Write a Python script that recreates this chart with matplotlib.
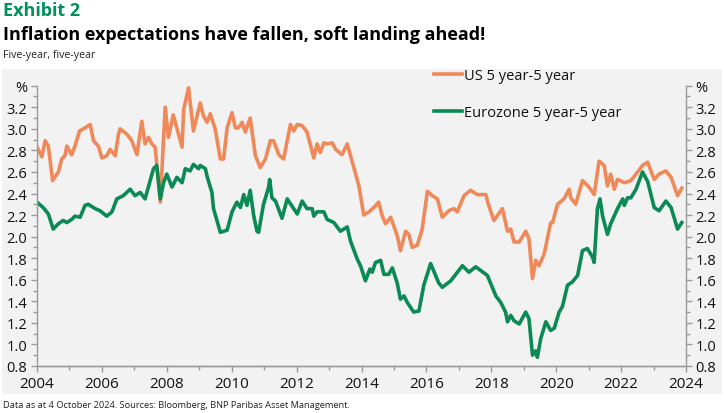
import numpy as np
import matplotlib
matplotlib.use('Agg')
import matplotlib.pyplot as plt
from matplotlib.patches import Rectangle
from matplotlib.ticker import MultipleLocator

plt.rcParams['font.family'] = ['Open Sans', 'DejaVu Sans']

# US 5y5y inflation expectations (decimal year, %)
us_years = [2004.00, 2004.15, 2004.25, 2004.35, 2004.48, 2004.66, 2004.76, 2004.86, 2004.92,
            2005.07, 2005.17, 2005.31, 2005.43, 2005.64, 2005.74, 2005.89, 2006.00, 2006.15,
            2006.25, 2006.41, 2006.51, 2006.56, 2006.77, 2006.92, 2007.08, 2007.23, 2007.33,
            2007.44, 2007.54, 2007.64, 2007.80, 2007.95, 2008.05, 2008.20, 2008.36, 2008.47,
            2008.52, 2008.67, 2008.82, 2009.03, 2009.13, 2009.24, 2009.34, 2009.49, 2009.65,
            2009.75, 2009.86, 2010.01, 2010.11, 2010.21, 2010.32, 2010.42, 2010.57, 2010.73,
            2010.88, 2011.04, 2011.19, 2011.29, 2011.45, 2011.60, 2011.81, 2011.91, 2012.02,
            2012.17, 2012.32, 2012.53, 2012.63, 2012.73, 2012.84, 2012.94, 2013.10, 2013.20,
            2013.40, 2013.56, 2013.71, 2013.92, 2014.07, 2014.23, 2014.38, 2014.53, 2014.64,
            2014.74, 2014.90, 2015.10, 2015.20, 2015.36, 2015.46, 2015.56, 2015.72, 2015.87,
            2016.03, 2016.18, 2016.34, 2016.49, 2016.69, 2016.85, 2016.95, 2017.16, 2017.36,
            2017.57, 2017.83, 2017.92, 2018.08, 2018.34, 2018.50, 2018.60, 2018.70, 2018.86,
            2019.06, 2019.16, 2019.27, 2019.37, 2019.47, 2019.63, 2019.83, 2019.89, 2020.04,
            2020.24, 2020.40, 2020.45, 2020.60, 2020.81, 2021.01, 2021.17, 2021.32, 2021.48,
            2021.58, 2021.68, 2021.79, 2021.89, 2022.10, 2022.30, 2022.46, 2022.66, 2022.82,
            2023.02, 2023.17, 2023.38, 2023.54, 2023.74, 2023.87]
us_vals = [2.83, 2.74, 2.89, 2.84, 2.52, 2.60, 2.72, 2.75, 2.84,
           2.76, 2.84, 2.98, 3.00, 3.04, 2.89, 2.84, 2.73, 2.75,
           2.81, 2.75, 2.95, 3.00, 2.95, 2.89, 2.76, 3.07, 2.86,
           2.92, 2.86, 2.83, 2.32, 3.20, 2.92, 3.13, 2.95, 2.83,
           3.18, 3.38, 2.98, 3.24, 3.12, 3.06, 3.14, 3.00, 2.72,
           2.72, 3.01, 3.15, 3.01, 3.01, 3.06, 2.97, 3.10, 2.75,
           2.64, 2.72, 2.89, 2.89, 2.76, 2.72, 3.04, 2.98, 3.04,
           3.03, 2.97, 2.73, 2.86, 2.78, 2.87, 2.86, 2.87, 2.81,
           2.76, 2.86, 2.70, 2.47, 2.20, 2.23, 2.27, 2.32, 2.19,
           2.12, 2.18, 2.01, 1.87, 2.05, 2.02, 1.90, 1.92, 2.07,
           2.42, 2.38, 2.35, 2.18, 2.24, 2.26, 2.23, 2.38, 2.43,
           2.39, 2.39, 2.29, 2.15, 2.26, 2.05, 2.07, 1.95, 1.95,
           2.05, 1.98, 1.61, 1.78, 1.73, 1.84, 2.13, 2.13, 2.30,
           2.35, 2.44, 2.36, 2.30, 2.52, 2.46, 2.39, 2.70, 2.66,
           2.47, 2.58, 2.44, 2.53, 2.50, 2.52, 2.58, 2.66, 2.69,
           2.53, 2.58, 2.61, 2.55, 2.38, 2.45]

# Eurozone 5y5y inflation expectations (decimal year, %)
ez_years = [2004.00, 2004.19, 2004.35, 2004.50, 2004.66, 2004.81, 2004.92, 2005.07, 2005.17,
            2005.33, 2005.48, 2005.58, 2005.79, 2005.94, 2006.15, 2006.31, 2006.46, 2006.66,
            2006.87, 2007.02, 2007.18, 2007.33, 2007.49, 2007.59, 2007.69, 2007.80, 2007.90,
            2008.00, 2008.16, 2008.31, 2008.47, 2008.57, 2008.72, 2008.82, 2008.98, 2009.03,
            2009.19, 2009.24, 2009.39, 2009.44, 2009.65, 2009.86, 2010.01, 2010.16, 2010.27,
            2010.37, 2010.47, 2010.57, 2010.68, 2010.78, 2010.83, 2010.98, 2011.14, 2011.17,
            2011.24, 2011.35, 2011.55, 2011.71, 2012.02, 2012.17, 2012.32, 2012.48, 2012.53,
            2012.63, 2012.84, 2012.94, 2013.15, 2013.35, 2013.56, 2013.66, 2013.87, 2013.97,
            2014.12, 2014.26, 2014.33, 2014.43, 2014.59, 2014.69, 2014.84, 2014.95, 2015.10,
            2015.20, 2015.31, 2015.41, 2015.61, 2015.77, 2015.92, 2016.13, 2016.38, 2016.49,
            2016.75, 2017.11, 2017.31, 2017.52, 2017.88, 2018.14, 2018.29, 2018.44, 2018.50,
            2018.60, 2018.70, 2018.86, 2019.06, 2019.16, 2019.27, 2019.37, 2019.42, 2019.52,
            2019.68, 2019.83, 2019.94, 2020.09, 2020.19, 2020.35, 2020.50, 2020.66, 2020.81,
            2020.96, 2021.12, 2021.17, 2021.27, 2021.35, 2021.43, 2021.58, 2021.68, 2021.89,
            2022.05, 2022.10, 2022.20, 2022.30, 2022.46, 2022.66, 2022.82, 2023.02, 2023.17,
            2023.38, 2023.54, 2023.74, 2023.87]
ez_vals = [2.32, 2.27, 2.21, 2.07, 2.12, 2.15, 2.13, 2.16, 2.19,
           2.18, 2.29, 2.30, 2.26, 2.24, 2.19, 2.23, 2.35, 2.38,
           2.44, 2.38, 2.41, 2.35, 2.52, 2.63, 2.66, 2.35, 2.50,
           2.58, 2.46, 2.55, 2.50, 2.63, 2.61, 2.67, 2.63, 2.66,
           2.63, 2.56, 2.41, 2.26, 2.04, 2.06, 2.23, 2.32, 2.27,
           2.39, 2.29, 2.43, 2.19, 2.05, 2.04, 2.30, 2.46, 2.53,
           2.36, 2.33, 2.17, 2.35, 2.21, 2.33, 2.26, 2.26, 2.19,
           2.23, 2.23, 2.16, 2.13, 2.05, 2.09, 1.96, 1.79, 1.73,
           1.59, 1.70, 1.67, 1.76, 1.78, 1.65, 1.65, 1.71, 1.57,
           1.42, 1.45, 1.39, 1.30, 1.31, 1.55, 1.75, 1.57, 1.53,
           1.59, 1.73, 1.67, 1.72, 1.64, 1.45, 1.39, 1.30, 1.21,
           1.27, 1.22, 1.19, 1.30, 1.24, 0.90, 0.94, 0.88, 1.05,
           1.21, 1.13, 1.15, 1.30, 1.35, 1.55, 1.58, 1.64, 1.87,
           1.89, 1.81, 1.76, 2.26, 2.35, 2.19, 2.02, 2.12, 2.26,
           2.35, 2.29, 2.36, 2.36, 2.44, 2.60, 2.51, 2.27, 2.24,
           2.33, 2.27, 2.07, 2.13]

y_ticks = [0.8, 1.0, 1.2, 1.4, 1.6, 1.8, 2.0, 2.2, 2.4, 2.6, 2.8, 3.0, 3.2, 3.4]
y_labels = ['0.8', '1.0', '1.2', '1.4', '1.6', '1.8', '2.0', '2.2', '2.4', '2.6', '2.8', '3.0', '3.2', '%']

orange = '#F0895A'
green = '#0B8A55'
grey_bg = '#F2F2F2'
spine_c = '#9A9A9A'

W, H = 725, 414
fig = plt.figure(figsize=(W / 100, H / 100), dpi=100)
# grey panel behind the chart
fig.patches.append(Rectangle((2 / W, 1 - 395 / H), 720 / W, 325 / H, transform=fig.transFigure,
                             facecolor=grey_bg, edgecolor='none', zorder=-10))

ax = fig.add_axes([37 / W, 1 - 367 / H, (686 - 37) / W, (367 - 86.7) / H])
ax.set_facecolor('none')
ax.plot(us_years, us_vals, color=orange, lw=2.6, label='US 5 year-5 year', solid_joinstyle='round')
ax.plot(ez_years, ez_vals, color=green, lw=2.6, label='Eurozone 5 year-5 year', solid_joinstyle='round')

ax.set_xlim(2004, 2024)
ax.set_ylim(0.8, 3.4)
ax.xaxis.set_major_locator(MultipleLocator(2))
ax.xaxis.set_minor_locator(MultipleLocator(1))
ax.set_yticks(y_ticks)
ax.set_yticklabels(y_labels)
ax.yaxis.set_minor_locator(MultipleLocator(0.1))

ax2 = ax.twinx()
ax2.set_ylim(0.8, 3.4)
ax2.set_yticks(y_ticks)
ax2.set_yticklabels(y_labels)
ax2.yaxis.set_minor_locator(MultipleLocator(0.1))

for a in (ax, ax2):
    a.spines['top'].set_visible(False)
    for s in ('left', 'right', 'bottom'):
        a.spines[s].set_color(spine_c)
        a.spines[s].set_linewidth(1.0)
    a.tick_params(which='both', direction='out', color=spine_c, length=4, width=1)
    a.tick_params(which='minor', length=3)
ax.spines['right'].set_visible(False)
ax2.spines['left'].set_visible(False)
ax.tick_params(axis='y', labelsize=10.5, pad=3, labelcolor='#111111')
ax2.tick_params(axis='y', labelsize=10.5, pad=3, labelcolor='#111111')
ax.tick_params(axis='x', labelsize=11, pad=3, labelcolor='#111111')

leg = ax.legend(loc='upper left', bbox_to_anchor=(434 / W, 1 - 69 / H), bbox_transform=fig.transFigure,
                frameon=False, fontsize=10.5, handlelength=1.9, handletextpad=0.15,
                labelspacing=1.5, borderpad=0, borderaxespad=0)
for t in leg.get_texts():
    t.set_color('#111111')

fig.text(3 / W, 1 - 11 / H, 'Exhibit 2', fontsize=13, fontweight='bold', color='#00915A',
         va='center', ha='left')
fig.text(3 / W, 1 - 35 / H, 'Inflation expectations have fallen, soft landing ahead!', fontsize=13,
         fontweight='bold', color='#000000', va='center', ha='left')
fig.text(3 / W, 1 - 56 / H, 'Five-year, five-year', fontsize=7.7, color='#222222', va='center', ha='left')
fig.text(3 / W, 1 - 406 / H, 'Data as at 4 October 2024. Sources: Bloomberg, BNP Paribas Asset Management.',
         fontsize=6.7, color='#222222', va='center', ha='left')

fig.savefig('out.png', dpi=100, facecolor='white')
